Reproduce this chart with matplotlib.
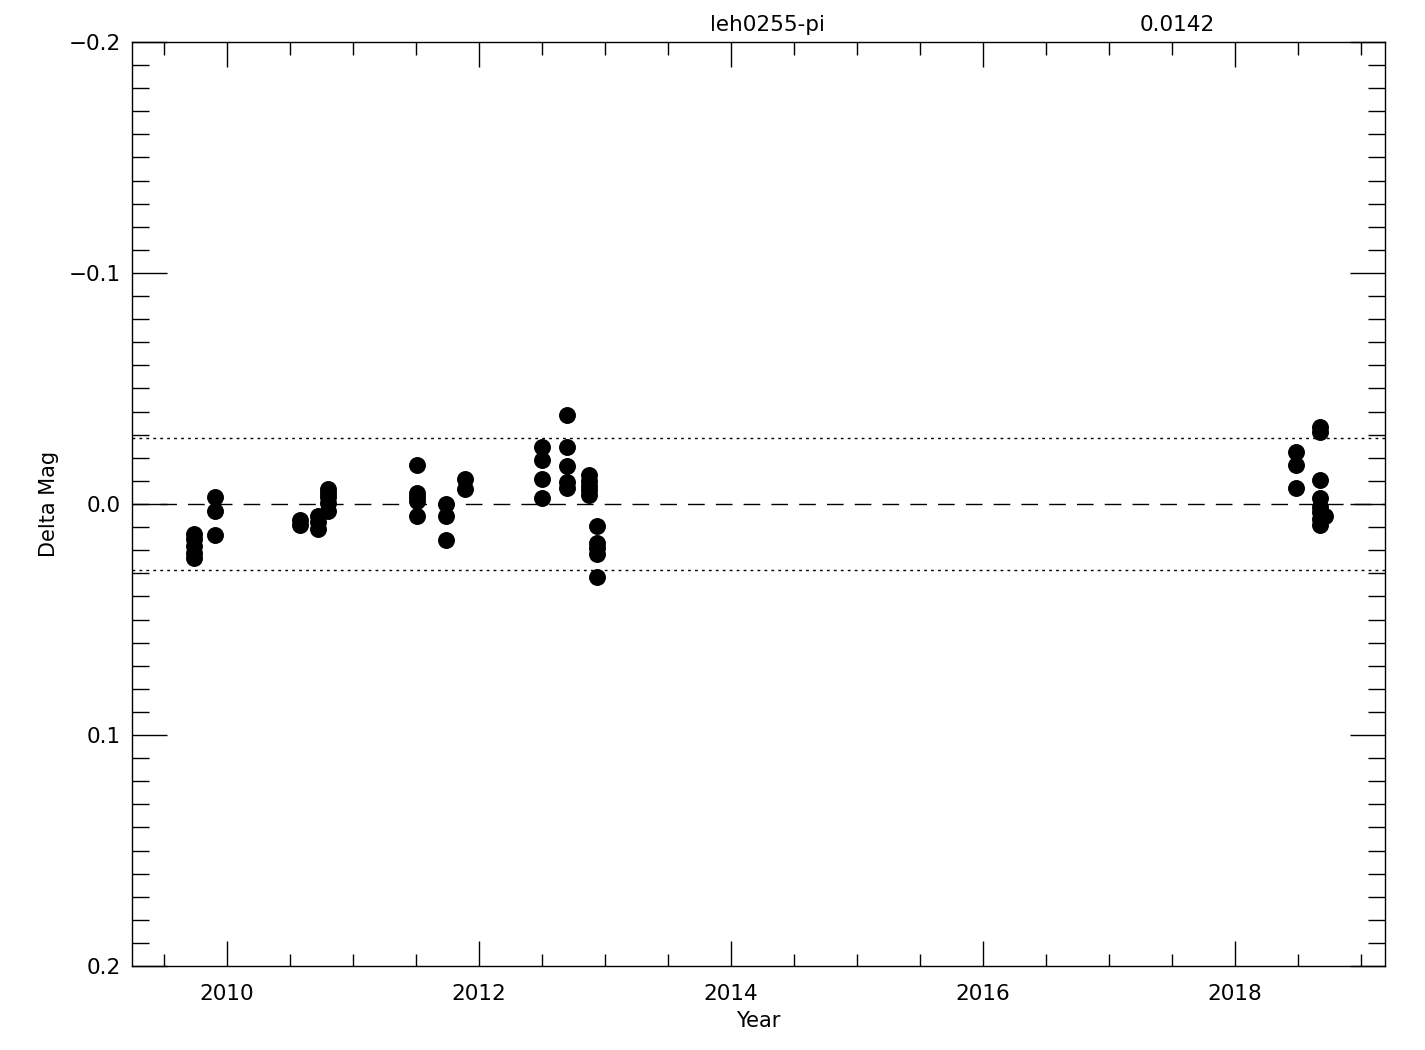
import numpy as np
import matplotlib
matplotlib.use("Agg")
import matplotlib.pyplot as plt
from matplotlib.ticker import MultipleLocator

# observation epochs (decimal year) and delta magnitudes
year = [2009.74]*5 + [2009.90]*3 + [2010.58]*2 + [2010.72]*3 + [2010.80]*5 \
     + [2011.51]*5 + [2011.74]*3 + [2011.89]*2 + [2012.50]*4 + [2012.70]*5 \
     + [2012.87]*5 + [2012.94]*5 + [2018.49]*3 + [2018.68]*8 + [2018.72]
dmag = [0.013, 0.015, 0.018, 0.021, 0.0235,
        -0.003, 0.003, 0.0135,
        0.007, 0.009,
        0.005, 0.008, 0.011,
        -0.0065, -0.0048, -0.003, -0.0004, 0.003,
        -0.0169, -0.0048, -0.003, -0.0013, 0.0052,
        0.0, 0.0052, 0.0156,
        -0.0107, -0.0064,
        -0.0248, -0.019, -0.0107, -0.0025,
        -0.0385, -0.0245, -0.0166, -0.0097, -0.0068,
        -0.0126, -0.010, -0.008, -0.006, -0.0039,
        0.0095, 0.017, 0.0192, 0.0216, 0.0315,
        -0.0227, -0.0169, -0.0068,
        -0.0333, -0.031, -0.0104, -0.0026, 0.0013, 0.0035, 0.0065, 0.009,
        0.0052]
star = "leh0255-pi"
sigma = 0.0142

fig = plt.figure(figsize=(14.25, 10.5), dpi=100)
ax = fig.add_axes([132/1425, 1-966/1050, (1385-132)/1425, (966-42)/1050])

ax.plot(year, dmag, 'o', color='black', markersize=12.2, markeredgewidth=0)
ax.axhline(0.0, color='black', lw=1, dashes=(12, 8))
ax.axhline(2*sigma, color='black', lw=1, dashes=(2, 3))
ax.axhline(-2*sigma, color='black', lw=1, dashes=(2, 3))

ax.set_xlim(2009.245, 2019.193)
ax.set_ylim(0.2, -0.2)
ax.xaxis.set_major_locator(MultipleLocator(2))
ax.xaxis.set_minor_locator(MultipleLocator(0.5))
ax.yaxis.set_major_locator(MultipleLocator(0.1))
ax.yaxis.set_minor_locator(MultipleLocator(0.01))
ax.set_yticks([-0.2, -0.1, 0.0, 0.1, 0.2])
ax.set_yticklabels(['\u22120.2', '\u22120.1', '0.0', '0.1', '0.2'])

ax.tick_params(axis='both', which='both', direction='in', top=True, right=True,
               colors='black', width=1, labelsize=15.5)
ax.tick_params(axis='x', which='major', length=18, pad=13)
ax.tick_params(axis='x', which='minor', length=9)
ax.tick_params(axis='y', which='major', length=25, pad=8)
ax.tick_params(axis='y', which='minor', length=12)
for s in ax.spines.values():
    s.set_linewidth(1)

ax.set_xlabel("Year", fontsize=15, labelpad=5)
ax.set_ylabel("Delta Mag", fontsize=15, labelpad=7)
fig.text(767/1425, 1-25/1050, star, ha='center', va='center', fontsize=15.5)
fig.text(1177/1425, 1-25/1050, "%.4f" % sigma, ha='center', va='center', fontsize=15.5)

fig.savefig("out.png", dpi=100, facecolor='white')
